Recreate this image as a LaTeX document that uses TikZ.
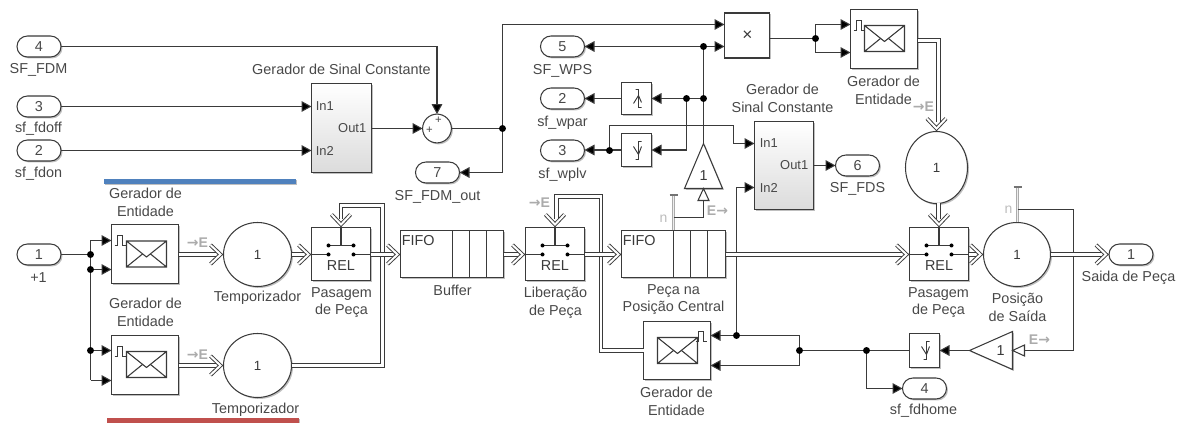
\documentclass[tikz,border=0pt]{standalone}
\usepackage{fontspec}
\setmainfont{Liberation Sans}
\newfontfamily\arrowfont{DejaVu Sans}
\usetikzlibrary{arrows.meta,shapes.geometric,shapes.misc,shadows}
\definecolor{ink}{HTML}{3A3A3A}
\definecolor{txt}{HTML}{484848}
\definecolor{faint}{HTML}{ABABAB}
\definecolor{barblue}{HTML}{4F81BD}
\definecolor{barred}{HTML}{C0504D}
\tikzset{
  ln/.style={draw=ink,line width=0.78pt},
  sig/.style={ln,-{Triangle[length=7.5pt,width=8pt,fill=black]}},
  wire/.style={ln},
  dbl/.style={draw=ink,line width=0.72pt,double=white,double distance=2.2pt},
  chevstroke/.style={draw=ink,line width=0.7pt,double=white,double distance=1.5pt,miter limit=10},
  shad/.style={general shadow={shadow xshift=1.1pt,shadow yshift=-1.1pt,fill=black,opacity=.25}},
  wh/.style 2 args={minimum width=#1*0.75pt,minimum height=#2*0.75pt},
  block/.style={ln,fill=white,shad,rectangle,inner sep=0pt,outer sep=0pt},
  subsys/.style={ln,shad,rectangle,inner sep=0pt,outer sep=0pt,top color=white,bottom color=black!14},
  pill/.style={ln,fill=white,rounded rectangle,inner sep=0pt,outer sep=0pt,wh={44}{21},shad,
    text=txt,font=\fontsize{10.8}{13}\selectfont},
  serv/.style={ln,fill=white,ellipse,inner sep=0pt,outer sep=0pt,shad,text=ink,font=\fontsize{10}{12}\selectfont},
  lab/.style={text=txt,align=center,inner sep=0pt,font=\fontsize{10.8}{13.3}\selectfont},
  port/.style={text=txt,inner sep=0pt,font=\fontsize{9.7}{12}\selectfont},
  big/.style={text=ink,inner sep=0pt,font=\fontsize{10.8}{13}\selectfont},
  ent/.style={text=faint,inner sep=0pt,font=\bfseries\fontsize{10.5}{12}\selectfont},
  nn/.style={text=faint!80,inner sep=0pt,font=\fontsize{10.5}{12}\selectfont},
  dotj/.style={circle,fill=black,inner sep=0pt,minimum size=5.2pt},
  chev/.pic={\draw[chevstroke] (-13,-9.5) -- (-3,0) -- (-13,9.5);},
  envel/.pic={\draw[line width=0.8pt,draw=ink] (-20,-13) rectangle (20,13)
      (-20,-13) -- (0,3) -- (20,-13) (-20,13) -- (-4,0) (20,13) -- (4,0);},
  pulse/.pic={\draw[line width=0.75pt,draw=ink] (-7,5) -- (-4,5) -- (-4,-4.5) -- (1,-4.5) -- (1,5) -- (4,5);},
  relsw/.pic={\draw[line width=0.78pt,draw=ink] (-29.5,0) -- (-12.5,0) (12.5,0) -- (29.5,0)
      (-12.5,-9) -- (12.5,-9) (0,-27) -- (0,-9);
    \fill[black] (-12.5,0) circle (1.5pt) (12.5,0) circle (1.5pt) (-12.5,-9) circle (1.5pt) (12.5,-9) circle (1.5pt);},
  risedge/.pic={\draw[line width=0.7pt,draw=ink] (-2,-9) -- (1,-9) -- (1,9) -- (4,9) (-4,5) -- (1,-3) (1,-3) -- (4,4);},
  falledge/.pic={\draw[line width=0.7pt,draw=ink] (4,-9) -- (1,-9) -- (1,9) -- (-2,9) (-4,-4) -- (1,4) (1,4) -- (4,-4);},
  fifo/.pic={\draw[line width=0.8pt,draw=ink] (0,-23.5) -- (0,23.5) (17,-23.5) -- (17,23.5) (34,-23.5) -- (34,23.5);},
  opentri/.pic={\draw[ln,fill=white,line join=miter] (0,0) -- (12,-5.5) -- (12,5.5) -- cycle;},
  nstem/.pic={\draw[faint,line width=0.6pt,double=white!80!faint,double distance=1.4pt] (0,0) -- (0,-35);
    \draw[black!55,line width=1.5pt] (-4,-35.5) -- (4,-35.5);},
}
\begin{document}
\begin{tikzpicture}[x=0.75pt,y=-0.75pt]
\useasboundingbox (0,0) rectangle (1183,423);
% colour bars
\fill[barblue,shad] (104,179) rectangle (296,184);
\fill[barred,shad] (107,418) rectangle (299,423);
\begin{scope}[shift={(0.5,0.5)}]

% --- inports / outports
\node[pill] (p4a) at (38.5,46) {4};
\node[pill] (p3a) at (38.5,106) {3};
\node[pill] (p2a) at (38.5,150) {2};
\node[pill] (p1a) at (38.5,254) {1};
\node[pill] (p7) at (437,172) {7};
\node[pill] (p5) at (562,46) {5};
\node[pill] (p2b) at (562,98) {2};
\node[pill] (p3b) at (562,150) {3};
\node[pill] (p6) at (857,165) {6};
\node[pill] (p1b) at (1130.5,254) {1};
\node[pill] (p4b) at (924,388) {4};
\node[lab] (tp4a) at (38,69) {SF\_FDM};
\node[lab] (tp3a) at (38,128) {sf\_fdoff};
\node[lab] (tp2a) at (38,173) {sf\_fdon};
\node[lab] (tp1a) at (38,277) {+1};
\node[lab] (tp7) at (437,196) {SF\_FDM\_out};
\node[lab] (tp5) at (562,70) {SF\_WPS};
\node[lab] (tp2b) at (562,122) {sf\_wpar};
\node[lab] (tp3b) at (562,174) {sf\_wplv};
\node[lab] (tp6) at (857,188) {SF\_FDS};
\node[lab] (tp1b) at (1128,277) {Saida de Peça};
\node[lab] (tp4b) at (923,410) {sf\_fdhome};

% --- subsystems
\node[subsys,wh={60}{89}] (gsa) at (341,127.5) {};
\node[subsys,wh={59}{88}] (gsb) at (783.5,165) {};
\node[lab] (tgsa) at (341,69) {Gerador de Sinal Constante};
\node[lab] (tgsb) at (782,98) {Gerador de\\Sinal Constante};
\node[port,anchor=west] (i1a) at (315,106) {In1};
\node[port,anchor=west] (i2a) at (315,150) {In2};
\node[port,anchor=east] (o1a) at (366,128) {Out1};
\node[port,anchor=west] (i1b) at (759,143) {In1};
\node[port,anchor=west] (i2b) at (759,187) {In2};
\node[port,anchor=east] (o1b) at (808,165) {Out1};

% --- sum, product, edge detectors
\node[ln,fill=white,circle,shad,inner sep=0pt,outer sep=0pt,minimum size=21.6pt] (sum) at (436.5,128) {};
\node[port,font=\fontsize{8.5}{9}\selectfont] (sumt) at (438,120) {+};
\node[port,font=\fontsize{8.5}{9}\selectfont] (suml) at (429,129.5) {+};
\node[block,wh={45}{45}] (prod) at (746.5,35) {};
\node[big,font=\fontsize{13}{14}\selectfont] (prodt) at (747,35) {×};
\node[block,wh={30}{32}] (rise) at (636,98) {};
\node[block,wh={30}{33}] (fallb) at (636,149.5) {};
\node[block,wh={30}{34}] (fallc) at (924,350) {};
\pic at (637,98) {risedge};
\pic at (637,150) {falledge};
\pic at (925,350) {falledge};

% --- entity generators
\node[block,wh={67}{59}] (ga) at (144.5,253.5) {};
\node[block,wh={67}{59}] (gb) at (144.5,364.5) {};
\node[block,wh={67}{58}] (gc) at (676.5,350) {};
\node[block,wh={67}{59}] (gd) at (883.5,38.5) {};
\pic at (146,253.5) {envel};
\pic at (146,364) {envel};
\pic at (677,350) {envel};
\pic at (884,38) {envel};
\pic at (121,240) {pulse};
\pic at (121,351) {pulse};
\pic at (702,336) {pulse};
\pic at (860,25) {pulse};
\node[lab] (tga) at (145,202) {Gerador de\\Entidade};
\node[lab] (tgb) at (145,312) {Gerador de\\Entidade};
\node[lab] (tgc) at (676,401) {Gerador de\\Entidade};
\node[lab] (tgd) at (883,90) {Gerador de\\Entidade};

% --- servers
\node[serv,wh={68}{64}] (sa) at (257,254) {1};
\node[serv,wh={68}{64}] (sb) at (257,365) {1};
\node[serv,wh={62}{72}] (sc) at (936,167) {1};
\node[serv,wh={67}{64}] (sd) at (1016.5,254) {1};
\node[lab] (tsa) at (257,297) {Temporizador};
\node[lab] (tsb) at (255,409) {Temporizador};
\node[lab] (tsd) at (1017,307) {Posição\\de Saída};

% --- gates
\node[block,wh={59}{53}] (ra) at (340.5,253.5) {};
\node[block,wh={59}{53}] (rb) at (554.5,253.5) {};
\node[block,wh={59}{53}] (rc) at (938.5,253.5) {};
\pic at (340.5,254) {relsw};
\pic at (554.5,254) {relsw};
\pic at (938.5,254) {relsw};
\node[big] (rat) at (340.5,265) {REL};
\node[big] (rbt) at (554.5,265) {REL};
\node[big] (rct) at (938.5,265) {REL};
\node[lab] (tra) at (341,302) {Pasagem\\de Peça};
\node[lab] (trb) at (555,302) {Liberação\\de Peça};
\node[lab] (trc) at (938,302) {Pasagem\\de Peça};

% --- queues
\node[block,wh={103}{47}] (qa) at (451.5,253.5) {};
\node[block,wh={104}{47}] (qb) at (673,253.5) {};
\pic at (452,253.5) {fifo};
\pic at (673,253.5) {fifo};
\node[big,anchor=west] (qat) at (401,240) {FIFO};
\node[big,anchor=west] (qbt) at (622,240) {FIFO};
\node[lab] (tqa) at (452,290) {Buffer};
\node[lab] (tqb) at (673,299) {Peça na\\Posição Central};

% --- gains
\coordinate (ga1tip) at (703,143);
\coordinate (ga1b) at (703,188);
\draw[ln,fill=white,shad,line join=miter] (ga1tip) -- (722,188) -- (684,188) -- cycle;
\node[big] (ga1t) at (703,175) {1};
\coordinate (ga2tip) at (969,350);
\coordinate (ga2b) at (1012,350);
\draw[ln,fill=white,shad,line join=miter] (ga2tip) -- (1012,331) -- (1012,369) -- cycle;
\node[big] (ga2t) at (1000,350) {1};

% --- junction coordinates
\coordinate (ja) at (90,254);
\coordinate (jb) at (90,269);
\coordinate (jc) at (90,350);
\coordinate (jd) at (502,128);
\coordinate (je) at (703,46);
\coordinate (jf) at (703,98);
\coordinate (jg) at (686,98);
\coordinate (jh) at (609,150);
\coordinate (ji) at (815,38);
\coordinate (jk) at (799,350);
\coordinate (jl) at (866,350);
\coordinate (jm) at (736,335);

% --- signal lines
\draw[wire] (p1a.east) -- (ja);
\draw[sig] (jb |- 0,240) -- (90,240 -| ga.west);
\draw[wire] (90,240) -- (90,380);
\draw[sig] (jb) -- (jb -| ga.west);
\draw[sig] (jc) -- (jc -| gb.west);
\draw[sig] (90,380) -- (90,380 -| gb.west);
\draw[sig] (p3a.east) -- (p3a.east -| gsa.west);
\draw[sig] (p2a.east) -- (p2a.east -| gsa.west);
\draw[sig] (p4a.east) -| (sum.north);
\draw[sig] (gsa.east |- sum.west) -- (sum.west);
\draw[wire] (sum.east) -- (jd);
\draw[sig] (jd) |- (502,24 -| prod.west);
\draw[sig] (jd) |- (p7.east);
\draw[sig] (je) -- (je -| prod.west);
\draw[sig] (je) -- (p5.east);
\draw[wire] (ga1tip) -- (je);
\draw[sig] (jf) -- (jf -| rise.east);
\draw[sig] (rise.west) -- (p2b.east);
\draw[sig] (jg) |- (fallb.east);
\draw[sig] (fallb.west) -- (p3b.east |- fallb.west);
\draw[sig] (jh) |- (733,125) |- (733,143 -| gsb.west);
\draw[sig] (gsb.east) -- (p6.west);
\draw[sig] (prod.east |- ji) -- (ji) -- (815,24) -- (815,24 -| gd.west);
\draw[sig] (ji) -- (815,52) -- (815,52 -| gd.west);
\draw[sig] (jm) |- (736,187 -| gsb.west);

\draw[sig] (jm) -- (jm -| gc.east);
\draw[wire] (jm) -- (jm -| jk) -- (jk);
\draw[sig] (jk) -- (799,365) -- (799,365 -| gc.east);
\draw[wire] (fallc.west) -- (jk);
\draw[sig] (ga2tip) -- (fallc.east);
\draw[sig] (jl) |- (p4b.west);

% --- gray attribute links
\pic at (673,230) {nstem};
\pic at (1017,222) {nstem};
\draw[ln] (673,217) -- (703,217) -- (703,199);
\pic[rotate=-90] at (703,188) {opentri};
\draw[ln] (1017,209) -- (1073,209) -- (1073,350) -- (1024,350);
\pic at (1012,350) {opentri};
\node[nn] (na) at (663,218) {n};
\node[nn] (nb) at (1008,209) {n};
\node[ent] (ea) at (197,242) {{\arrowfont→}E};
\node[ent] (eb) at (197,354) {{\arrowfont→}E};
\node[ent] (ec) at (539,202) {{\arrowfont→}E};
\node[ent] (ed) at (923,106) {{\arrowfont→}E};
\node[ent] (ee) at (717,210) {E{\arrowfont→}};
\node[ent] (ef) at (1039,339) {E{\arrowfont→}};

% --- entity (double) lines
\draw[dbl] (gc.west |- 0,350) -- (600.5,350) -- (600.5,196) -- (556,196) -- (556,219);
\pic[rotate=-90] at (rb.north) {chev};
\draw[dbl] (sb.east) -- (382,365) -- (382,205) -- (340.5,205) -- (340.5,219);
\pic[rotate=-90] at (ra.north) {chev};
\draw[dbl] (ga.east |- 0,254) -- (216,254);
\pic at (sa.west) {chev};
\draw[dbl] (gb.east |- 0,365) -- (216,365);
\pic at (sb.west) {chev};
\draw[dbl] (sa.east) -- (305,254);
\pic at (ra.west |- sa.east) {chev};
\draw[dbl] (ra.east |- 0,254) -- (394,254);
\pic at (qa.west |- sa.east) {chev};
\draw[dbl] (qa.east |- 0,254) -- (519,254);
\pic at (rb.west |- sa.east) {chev};
\draw[dbl] (rb.east |- 0,254) -- (615,254);
\pic at (qb.west |- sa.east) {chev};
\draw[dbl] (qb.east |- 0,254) -- (903,254);
\pic at (rc.west |- sa.east) {chev};
\draw[dbl] (rc.east |- 0,254) -- (977,254);
\pic at (sd.west) {chev};
\draw[dbl] (sd.east) -- (1102,254);
\pic at (p1b.west) {chev};
\draw[dbl] (gd.east |- 0,40) -- (938,40) -- (938,122);
\pic[rotate=-90] at (sc.north) {chev};
\draw[dbl] (938,203) -- (938,219);
\pic[rotate=-90] at (rc.north) {chev};

% --- junction dots
\foreach \j in {ja,jb,jc,jd,je,jf,jg,jh,ji,jk,jl,jm}{\node[dotj] at (\j) {};}
\end{scope}
\end{tikzpicture}
\end{document}
